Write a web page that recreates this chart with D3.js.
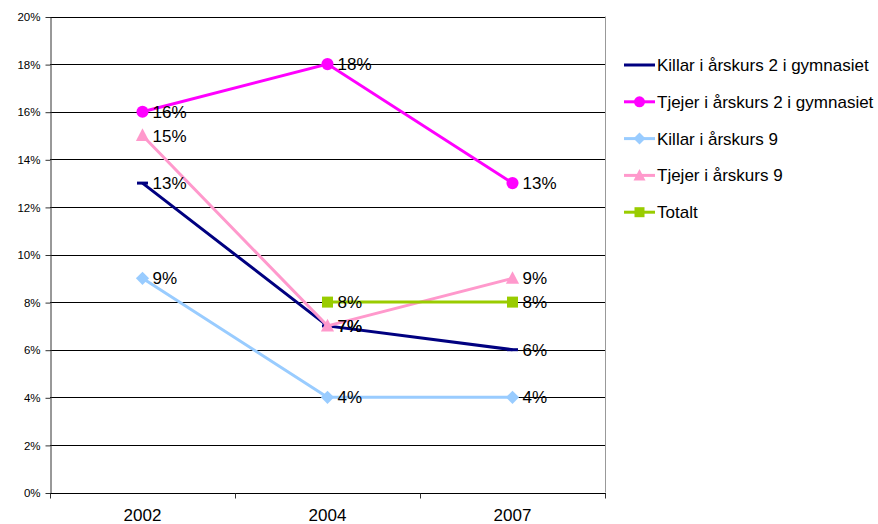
<!DOCTYPE html>
<html>
<head>
<meta charset="utf-8">
<script src="https://cdn.jsdelivr.net/npm/d3@7/dist/d3.min.js"></script>
<style>
  body { margin: 0; background: #fff; }
  svg { font-family: Arial, "Liberation Sans", sans-serif; }
</style>
</head>
<body>
<div id="chart"></div>
<script>
// data
const years = ["2002", "2004", "2007"];
const yTicks = [0, 2, 4, 6, 8, 10, 12, 14, 16, 18, 20];

const killarGymn = [13, 7, 6];
const tjejerGymn = [16, 18, 13];
const killarAk9 = [9, 4, 4];
const tjejerAk9 = [15, 7, 9];
const totalt = [null, 8, 8];

const series = [
    {name: "Killar i årskurs 2 i gymnasiet", values: killarGymn, color: "#000080", marker: "dash"},
    {name: "Tjejer i årskurs 2 i gymnasiet", values: tjejerGymn, color: "#ff00ff", marker: "circle"},
    {name: "Killar i årskurs 9", values: killarAk9, color: "#99ccff", marker: "diamond"},
    {name: "Tjejer i årskurs 9", values: tjejerAk9, color: "#ff99cc", marker: "triangle"},
    {name: "Totalt", values: totalt, color: "#99cc00", marker: "square"}
];

const width = 878, height = 524;
const plot = {left: 50, right: 605, top: 16.5, bottom: 492.5};

const svg = d3.select("#chart").append("svg")
    .attr("width", width)
    .attr("height", height);

const x = d3.scalePoint()
    .domain(years)
    .range([plot.left, plot.right])
    .padding(0.5);

const y = d3.scaleLinear()
    .domain([0, 20])
    .range([plot.bottom, plot.top]);

// gridlines
svg.append("g")
    .selectAll("line")
    .data(yTicks.filter(d => d > 0))
    .enter()
    .append("line")
    .attr("x1", plot.left)
    .attr("x2", plot.right)
    .attr("y1", d => Math.round(y(d)) + 0.5)
    .attr("y2", d => Math.round(y(d)) + 0.5)
    .attr("stroke", "#000")
    .attr("stroke-width", 1);

// right border
svg.append("line")
    .attr("x1", plot.right + 0.5).attr("x2", plot.right + 0.5)
    .attr("y1", plot.top).attr("y2", plot.bottom)
    .attr("stroke", "#999");

// y axis
const yAxis = svg.append("g")
    .attr("transform", `translate(${plot.left + 0.5},0.5)`)
    .call(d3.axisLeft(y).tickValues(yTicks).tickFormat(d => d + "%").tickSize(5).tickSizeOuter(0));
yAxis.select(".domain").attr("stroke", "#333");
yAxis.selectAll(".tick line").attr("stroke", "#333");
yAxis.selectAll("text")
    .attr("font-size", "11.5px")
    .attr("font-family", "Arial, 'Liberation Sans', sans-serif")
    .attr("fill", "#000")
    .attr("x", -10);

// x axis
const xBand = d3.scaleLinear().domain([0, 3]).range([plot.left, plot.right]);
const xAxisG = svg.append("g")
    .attr("transform", `translate(0,${Math.round(plot.bottom) + 0.5})`);
xAxisG.append("line")
    .attr("x1", plot.left).attr("x2", plot.right + 1)
    .attr("stroke", "#000");
xAxisG.selectAll(".xt")
    .data(d3.range(4))
    .enter()
    .append("line")
    .attr("x1", d => Math.round(xBand(d)) + 0.5)
    .attr("x2", d => Math.round(xBand(d)) + 0.5)
    .attr("y1", 0).attr("y2", 5)
    .attr("stroke", "#333");
xAxisG.selectAll(".xl")
    .data(years)
    .enter()
    .append("text")
    .attr("x", d => x(d))
    .attr("y", 27)
    .attr("text-anchor", "middle")
    .attr("font-size", "17px")
    .text(d => d);

// markers
function drawMarker(g, type, color, size) {
    const s = size;
    if (type === "circle") {
        g.append("circle").attr("r", s * 0.55).attr("fill", color);
    } else if (type === "diamond") {
        g.append("path").attr("d", `M0,${-s * 0.6}L${s * 0.6},0L0,${s * 0.6}L${-s * 0.6},0Z`).attr("fill", color);
    } else if (type === "triangle") {
        g.append("path").attr("d", `M0,${-s * 0.65}L${s * 0.6},${s * 0.5}L${-s * 0.6},${s * 0.5}Z`).attr("fill", color);
    } else if (type === "square") {
        g.append("rect").attr("x", -s / 2).attr("y", -s / 2).attr("width", s).attr("height", s).attr("fill", color);
    } else if (type === "dash") {
        g.append("line").attr("x1", -s / 2).attr("x2", s / 2).attr("stroke", color).attr("stroke-width", 3);
    }
}

const line = d3.line()
    .defined(d => d != null)
    .x((d, i) => x(years[i]))
    .y(d => y(d));

const seriesG = svg.append("g");
series.forEach(s => {
    const g = seriesG.append("g");
    g.append("path")
        .attr("d", line(s.values))
        .attr("fill", "none")
        .attr("stroke", s.color)
        .attr("stroke-width", 3);
    s.values.forEach((v, i) => {
        if (v == null) return;
        const m = g.append("g").attr("transform", `translate(${x(years[i])},${y(v)})`);
        drawMarker(m, s.marker, s.color, 11);
    });
});

// data labels
const labelsG = svg.append("g");
series.forEach(s => {
    s.values.forEach((v, i) => {
        if (v == null) return;
        labelsG.append("text")
            .attr("x", x(years[i]) + 10)
            .attr("y", y(v) + 6)
            .attr("font-size", "17px")
            .attr("fill", "#000")
            .text(v + "%");
    });
});

// legend
const legend = svg.append("g").attr("transform", "translate(624,65)");
series.forEach((s, i) => {
    const row = legend.append("g").attr("transform", `translate(0,${i * 36.8})`);
    row.append("line")
        .attr("x1", 0).attr("x2", 31)
        .attr("stroke", s.color)
        .attr("stroke-width", 3);
    if (s.marker !== "dash") {
        const m = row.append("g").attr("transform", "translate(15.5,0)");
        drawMarker(m, s.marker, s.color, 10);
    }
    row.append("text")
        .attr("x", 33)
        .attr("y", 6)
        .attr("font-size", "17px")
        .text(s.name);
});
</script>
</body>
</html>
